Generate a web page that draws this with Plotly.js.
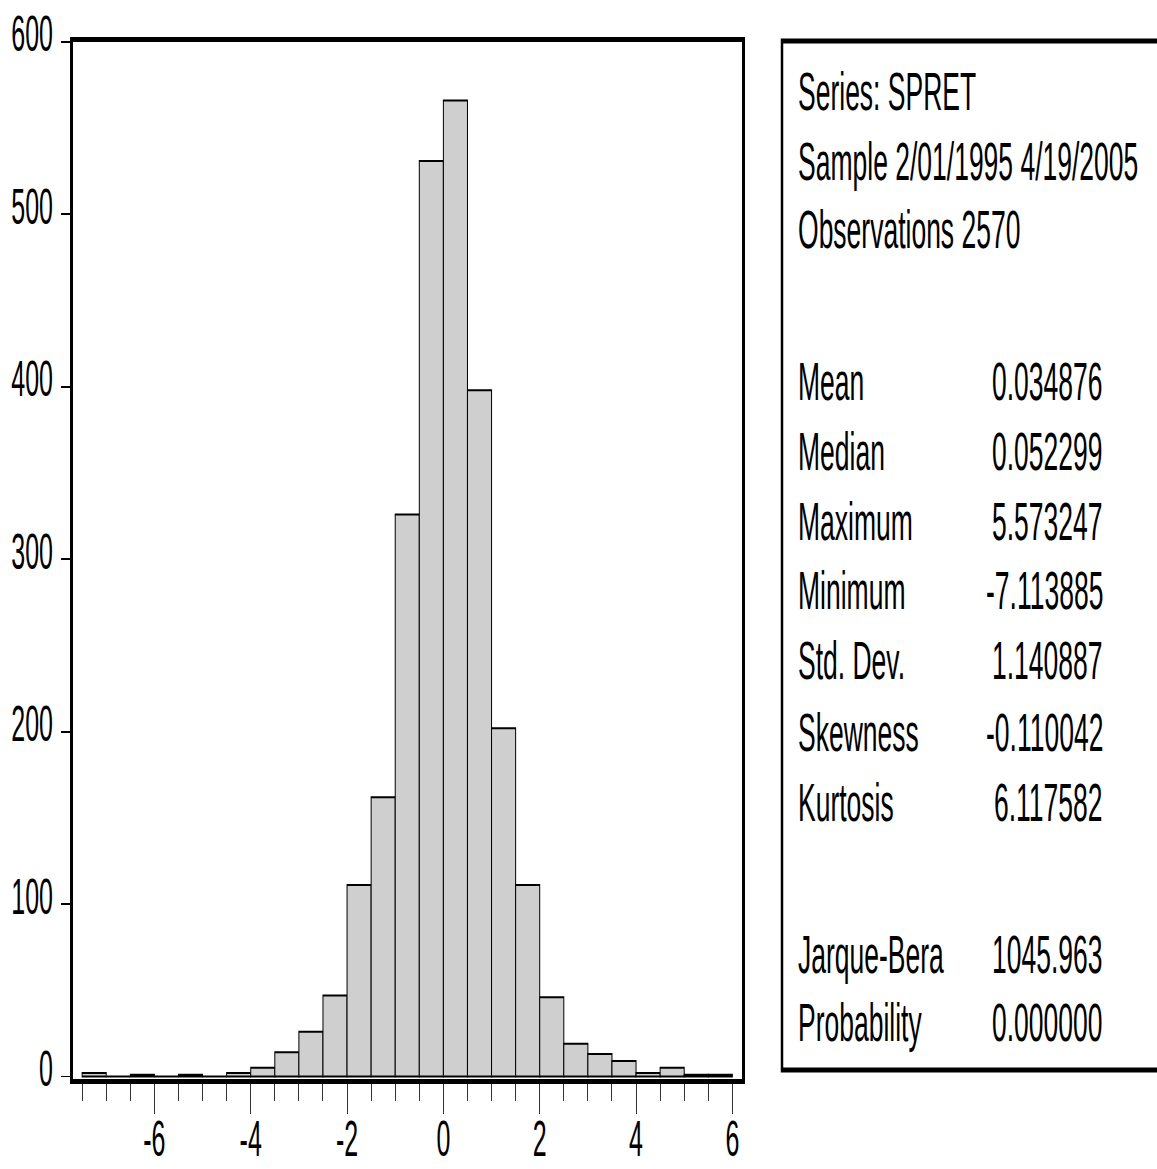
<!DOCTYPE html>
<html>
<head>
<meta charset="utf-8">
<script src="https://cdn.plot.ly/plotly-3.0.1.min.js"></script>
<style>
  html, body { margin: 0; padding: 0; background: #fff; overflow: hidden; }
  #wrap { width: 1157px; height: 1169px; overflow: hidden; }
  #chart { width: 1157px; height: 585px; transform-origin: 0 0; }
</style>
</head>
<body>
<div id="wrap"><div id="chart"></div></div>
<script>
// ---- data ----
const binCenters = [-7.25, -6.75, -6.25, -5.75, -5.25, -4.75, -4.25, -3.75, -3.25, -2.75, -2.25, -1.75, -1.25, -0.75, -0.25, 0.25, 0.75, 1.25, 1.75, 2.25, 2.75, 3.25, 3.75, 4.25, 4.75, 5.25, 5.75];
const counts = [2, 0, 1, 0, 1, 0, 2, 5, 14, 26, 47, 111, 162, 326, 531, 566, 398, 202, 111, 46, 19, 13, 9, 2, 5, 1, 1];
const xTickVals = [-6, -4, -2, 0, 2, 4, 6];
const yTickVals = [0, 100, 200, 300, 400, 500, 600];

const headerLines = ["Series: SPRET", "Sample 2/01/1995 4/19/2005", "Observations 2570"];
const statNames = ["Mean", "Median", "Maximum", "Minimum", "Std. Dev.", "Skewness", "Kurtosis"];
const statValues = ["0.034876", "0.052299", "5.573247", "-7.113885", "1.140887", "-0.110042", "6.117582"];
const testNames = ["Jarque-Bera", "Probability"];
const testValues = ["1045.963", "0.000000"];

// ---- geometry (chart drawn at half height, stretched vertically like the original) ----
const W = 1157, H = 585, S = 1169 / H;
const L = 73, R = 742, T = 21, B = 540;
const px = x => (x - L) / (R - L);
const py = yRef => (B - yRef / S) / (B - T);

const FONT = "Liberation Sans, Arial, Helvetica, sans-serif";
const fs = 26.5;
const tickFs = 25;

const annotations = [];
const headerY = [92, 161, 229];
headerLines.forEach((t, i) => annotations.push({
  text: t, xref: 'paper', yref: 'paper', x: px(796), y: py(headerY[i]),
  xanchor: 'left', yanchor: 'middle', showarrow: false, font: {family: FONT, size: fs, color: '#000'}
}));
const statY = [382, 451, 521, 592, 662, 733, 803];
statNames.forEach((t, i) => {
  annotations.push({text: t, xref: 'paper', yref: 'paper', x: px(796), y: py(statY[i]),
    xanchor: 'left', yanchor: 'middle', showarrow: false, font: {family: FONT, size: fs, color: '#000'}});
  annotations.push({text: statValues[i], xref: 'paper', yref: 'paper', x: px(1105), y: py(statY[i]),
    xanchor: 'right', yanchor: 'middle', showarrow: false, font: {family: FONT, size: fs, color: '#000'}});
});
const testY = [956, 1023];
testNames.forEach((t, i) => {
  annotations.push({text: t, xref: 'paper', yref: 'paper', x: px(796), y: py(testY[i]),
    xanchor: 'left', yanchor: 'middle', showarrow: false, font: {family: FONT, size: fs, color: '#000'}});
  annotations.push({text: testValues[i], xref: 'paper', yref: 'paper', x: px(1105), y: py(testY[i]),
    xanchor: 'right', yanchor: 'middle', showarrow: false, font: {family: FONT, size: fs, color: '#000'}});
});

const trace = {
  type: 'bar', x: binCenters, y: counts,
  marker: {color: '#cfcfcf', line: {color: '#000', width: 1}},
  hoverinfo: 'skip'
};

const layout = {
  width: W, height: H,
  margin: {l: L, r: W - R, t: T, b: H - B, pad: 0},
  paper_bgcolor: '#fff', plot_bgcolor: '#fff',
  showlegend: false, bargap: 0,
  font: {family: FONT, size: fs, color: '#000'},
  xaxis: {
    range: [-7.69, 6.2], showgrid: false, zeroline: false,
    showline: true, mirror: true, linecolor: '#000', linewidth: 2.5,
    tickmode: 'array', tickvals: xTickVals, ticktext: xTickVals.map(String),
    ticks: 'outside', ticklen: 15, tickwidth: 1, tickcolor: '#333',
    ticklabelstandoff: -9,
    minor: {dtick: 0.5, tick0: 0, ticks: 'outside', ticklen: 8.5, tickwidth: 1, tickcolor: '#333', showgrid: false},
    tickfont: {family: FONT, size: tickFs, color: '#000'}, fixedrange: true
  },
  yaxis: {
    range: [-1.5, 600], showgrid: false, zeroline: false,
    showline: true, mirror: true, linecolor: '#000', linewidth: 3,
    tickmode: 'array', tickvals: yTickVals, ticktext: yTickVals.map(String),
    ticks: 'outside', ticklen: 9, tickwidth: 1, tickcolor: '#000',
    ticklabelshift: -4, ticklabelstandoff: 3,
    tickfont: {family: FONT, size: tickFs, color: '#000'}, fixedrange: true
  },
  shapes: [{
    type: 'rect', xref: 'paper', yref: 'paper',
    x0: px(782), x1: px(1200), y0: py(1070), y1: py(41),
    line: {color: '#000', width: 2.5}, fillcolor: 'rgba(0,0,0,0)'
  }],
  annotations: annotations
};

const el = document.getElementById('chart');
el.style.transform = 'scaleY(' + S + ')';
Plotly.newPlot(el, [trace], layout, {displayModeBar: false, staticPlot: true});
</script>
</body>
</html>
